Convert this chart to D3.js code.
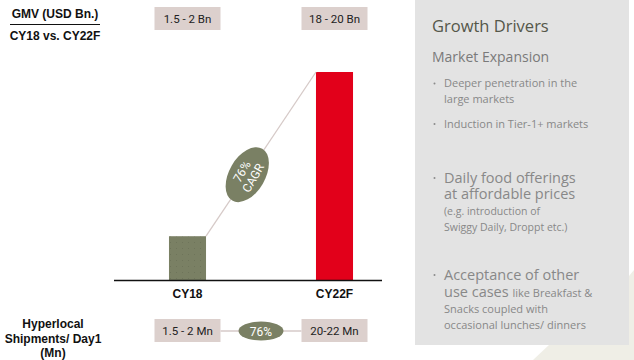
<!DOCTYPE html>
<html>
<head>
<meta charset="utf-8">
<script src="https://cdn.jsdelivr.net/npm/d3@7/dist/d3.min.js"></script>
<style>
  html, body { margin: 0; padding: 0; background: #ffffff; }
  svg { display: block; }
</style>
</head>
<body>
<svg id="chart" width="634" height="360"></svg>
<script>
// ---- data ----
const categories = ["CY18", "CY22F"];
const barValues = [4.0, 19.0];            // illustrative bar heights as drawn
const gmvLabels = ["1.5 - 2 Bn", "18 - 20 Bn"];
const shipmentLabels = ["1.5 - 2 Mn", "20-22 Mn"];
const cagrLabel = ["76%", "CAGR"];
const shipmentCagr = "76%";
const titleLines = ["GMV (USD Bn.)", "CY18 vs. CY22F"];
const shipmentTitle = ["Hyperlocal", "Shipments/ Day1", "(Mn)"];
const driversTitle = "Growth Drivers";
const driversSub = "Market Expansion";
const smallBullets = [["Deeper penetration in the", "large markets"], ["Induction in Tier-1+ markets"]];

// ---- styles ----
const olive = "#7a8064";
const red = "#e2001a";
const boxFill = "#dcd0cd";
const connector = "#d6cac8";
const boxFont = "Roboto, 'Liberation Sans', sans-serif";
const boldFont = "'Liberation Sans', Arial, sans-serif";
const panelFont = "'Open Sans', 'Noto Sans', sans-serif";

const svg = d3.select("#chart");
const defs = svg.append("defs");
const pat = defs.append("pattern").attr("id", "dots").attr("patternUnits", "userSpaceOnUse")
  .attr("width", 6).attr("height", 6);
pat.append("rect").attr("width", 6).attr("height", 6).attr("fill", olive);
pat.append("rect").attr("x", 2).attr("y", 2).attr("width", 1).attr("height", 1).attr("fill", "#6e745a");

// ---- right panel ----
svg.append("polygon")
  .attr("points", "533,360 549,345 629,345 629,276 634,270 634,360")
  .attr("fill", "#efeee6");
svg.append("rect").attr("x", 415).attr("y", 0).attr("width", 214).attr("height", 345).attr("fill", "#e3e3e3");

const panel = svg.append("g").attr("font-family", panelFont);
panel.append("text").attr("x", 432).attr("y", 32).attr("font-size", 16.5).attr("fill", "#55574a").text(driversTitle);
panel.append("text").attr("x", 432).attr("y", 62).attr("font-size", 14).attr("fill", "#7a7a7a").text(driversSub);

function bullet(y, big) {
  panel.append("circle").attr("cx", 434.5).attr("cy", y - (big ? 5 : 3.5)).attr("r", 1).attr("fill", "#8a8a8a");
}
let sy = 87;
smallBullets.forEach((lines, i) => {
  bullet(sy, false);
  lines.forEach((l, j) => {
    panel.append("text").attr("x", 444).attr("y", sy + j * 15.5).attr("font-size", 11)
      .attr("fill", "#888888").text(l);
  });
  sy += lines.length * 15.5 + 9.5;
});

// bullet 3
bullet(183, true);
panel.append("text").attr("x", 444).attr("y", 183).attr("font-size", 14.5).attr("fill", "#888888").text("Daily food offerings");
panel.append("text").attr("x", 444).attr("y", 199).attr("font-size", 14.5).attr("fill", "#888888").text("at affordable prices");
panel.append("text").attr("x", 444).attr("y", 215).attr("font-size", 10.5).attr("fill", "#888888").text("(e.g. introduction of");
panel.append("text").attr("x", 444).attr("y", 231).attr("font-size", 10.5).attr("fill", "#888888").text("Swiggy Daily, Droppt etc.)");

// bullet 4
bullet(280, true);
panel.append("text").attr("x", 444).attr("y", 280).attr("font-size", 14.5).attr("fill", "#888888").text("Acceptance of other");
const t4 = panel.append("text").attr("x", 444).attr("y", 297).attr("fill", "#888888");
t4.append("tspan").attr("font-size", 14.5).text("use cases ");
t4.append("tspan").attr("font-size", 11).text("like Breakfast &");
panel.append("text").attr("x", 444).attr("y", 313).attr("font-size", 11).attr("fill", "#888888").text("Snacks coupled with");
panel.append("text").attr("x", 444).attr("y", 329).attr("font-size", 11).attr("fill", "#888888").text("occasional lunches/ dinners");

// ---- left titles ----
svg.append("text").attr("x", 55).attr("y", 18).attr("text-anchor", "middle").attr("font-family", boldFont)
  .attr("font-weight", "bold").attr("font-size", 12).attr("fill", "#111").text(titleLines[0]);
svg.append("line").attr("x1", 10).attr("x2", 100).attr("y1", 24.5).attr("y2", 24.5).attr("stroke", "#111").attr("stroke-width", 1);
svg.append("text").attr("x", 55).attr("y", 40).attr("text-anchor", "middle").attr("font-family", boldFont)
  .attr("font-weight", "bold").attr("font-size", 12).attr("fill", "#111").text(titleLines[1]);

shipmentTitle.forEach((l, i) => {
  svg.append("text").attr("x", 53).attr("y", 328 + i * 14.5).attr("text-anchor", "middle").attr("font-family", boldFont)
    .attr("font-weight", "bold").attr("font-size", 12).attr("fill", "#111").text(l);
});

// ---- scales ----
const x = d3.scaleBand().domain(categories).range([114, 408]).paddingInner(0.748).paddingOuter(0.374);
const y = d3.scaleLinear().domain([0, 19]).range([280, 72]);
const bw = x.bandwidth();

// bars
svg.append("g").selectAll("rect").data(categories).join("rect")
  .attr("x", d => x(d)).attr("width", bw)
  .attr("y", (d, i) => y(barValues[i])).attr("height", (d, i) => y(0) - y(barValues[i]))
  .attr("fill", (d, i) => i === 0 ? "url(#dots)" : red);

// axis
const axisG = svg.append("g").attr("transform", `translate(0,${y(0)})`)
  .call(d3.axisBottom(x).tickSize(0).tickPadding(9));
axisG.select(".domain").attr("d", "M114,0.5H382").attr("stroke", "#111").attr("stroke-width", 1.5);
axisG.selectAll(".tick text").attr("font-family", boldFont).attr("font-weight", "bold")
  .attr("font-size", 12).attr("fill", "#111");

// connector line
const p0 = [x(categories[0]) + bw, y(barValues[0])];
const p1 = [x(categories[1]), y(barValues[1])];
svg.append("line").attr("x1", p0[0]).attr("y1", p0[1]).attr("x2", p1[0]).attr("y2", p1[1])
  .attr("stroke", connector).attr("stroke-width", 1.3);
const t = 0.375;
const cx = p0[0] + (p1[0] - p0[0]) * t, cy = p0[1] + (p1[1] - p0[1]) * t;
const ang = -60;
const eg = svg.append("g").attr("transform", `translate(${cx},${cy}) rotate(${ang})`);
eg.append("ellipse").attr("rx", 30).attr("ry", 18).attr("fill", olive);
eg.append("text").attr("y", -2).attr("text-anchor", "middle").attr("font-family", boxFont)
  .attr("font-size", 12).attr("fill", "#fff").text(cagrLabel[0]);
eg.append("text").attr("y", 11).attr("text-anchor", "middle").attr("font-family", boxFont)
  .attr("font-size", 12).attr("fill", "#fff").text(cagrLabel[1]);

// ---- label boxes ----
const boxW = 66, boxH = 23;
function boxes(labels, top) {
  const g = svg.append("g");
  g.selectAll("rect").data(categories).join("rect")
    .attr("x", d => x(d) + bw / 2 - boxW / 2).attr("y", top).attr("width", boxW).attr("height", boxH)
    .attr("fill", boxFill);
  g.selectAll("text").data(categories).join("text")
    .attr("x", d => x(d) + bw / 2).attr("y", top + boxH / 2 + 4)
    .attr("text-anchor", "middle").attr("font-family", boxFont).attr("font-size", 11.5)
    .attr("fill", "#222").text((d, i) => labels[i]);
}
boxes(gmvLabels, 7);

// bottom row connector + ellipse
const bx0 = x(categories[0]) + bw / 2 + boxW / 2, bx1 = x(categories[1]) + bw / 2 - boxW / 2;
svg.append("line").attr("x1", bx0).attr("x2", bx1).attr("y1", 331).attr("y2", 331)
  .attr("stroke", connector).attr("stroke-width", 1.3);
boxes(shipmentLabels, 319);
svg.append("ellipse").attr("cx", (bx0 + bx1) / 2).attr("cy", 331).attr("rx", 22.5).attr("ry", 9.5).attr("fill", olive);
svg.append("text").attr("x", (bx0 + bx1) / 2).attr("y", 335.5).attr("text-anchor", "middle")
  .attr("font-family", boxFont).attr("font-size", 12).attr("fill", "#fff").text(shipmentCagr);
</script>
</body>
</html>
